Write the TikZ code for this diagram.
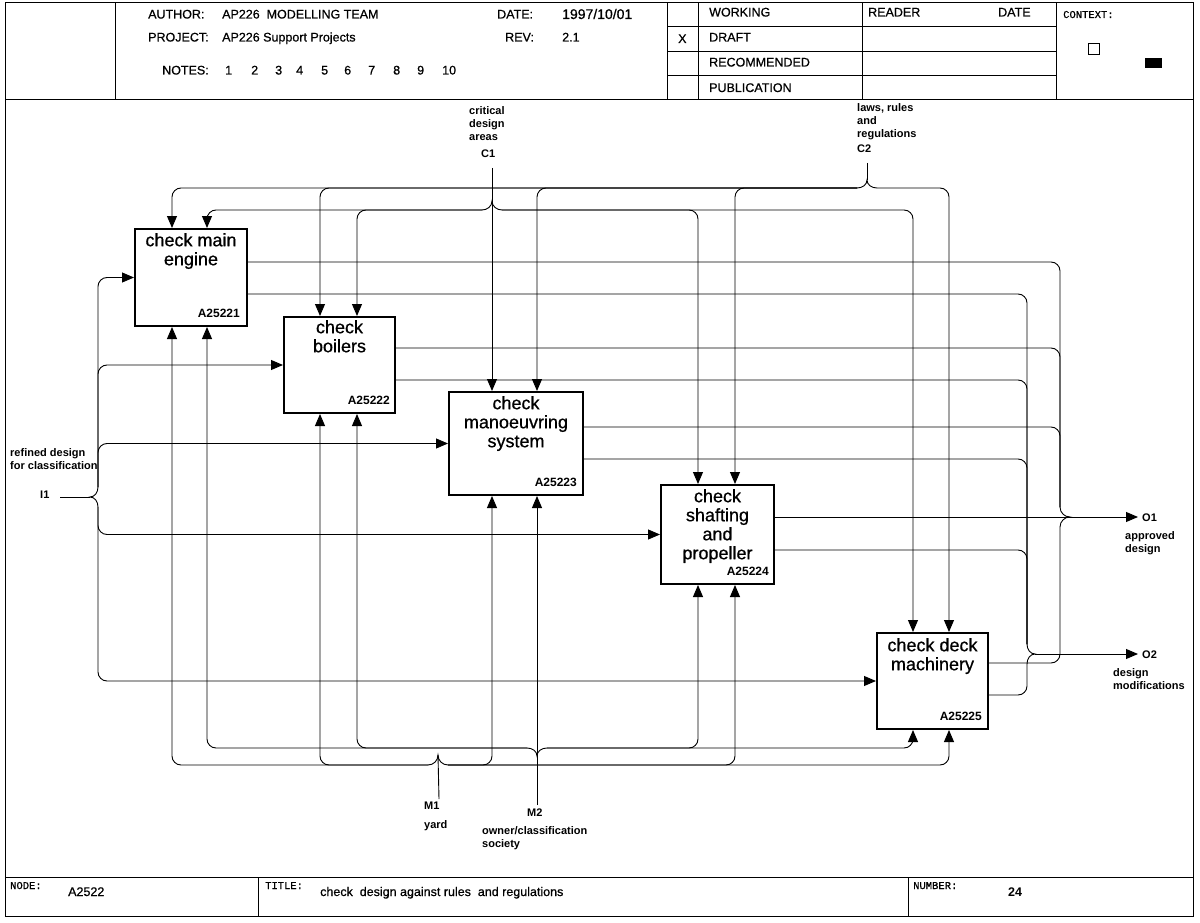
\documentclass[tikz,border=0pt]{standalone}
\usepackage{fontspec}
\setmainfont{Liberation Sans}
\setmonofont{Liberation Mono}
\newfontfamily\medsans{Liberation Sans}[FakeBold=0.7]
\newfontfamily\medmono{Liberation Mono}[FakeBold=0.7]
\usetikzlibrary{arrows.meta,calc}
\begin{document}
\begin{tikzpicture}[x=1pt,y=-1pt,
  ln/.style={line width=0.9pt, rounded corners=9pt},
  arr/.style={ln, -{Triangle[length=12pt,width=10pt]}},
  brc/.style={line width=0.9pt},
  fr/.style={line width=1pt},
  box/.style={draw, line width=2pt, anchor=north west, inner sep=0pt},
  ttl/.style={anchor=north, align=center, inner sep=0pt, font=\medsans\fontsize{18}{19}\selectfont},
  bid/.style={anchor=base east, inner sep=0pt, font=\bfseries\fontsize{12}{12}\selectfont},
  lbl/.style={anchor=north west, align=left, inner sep=0pt, font=\bfseries\fontsize{11}{13}\selectfont},
  lb1/.style={anchor=base west, inner sep=0pt, font=\bfseries\fontsize{11}{13}\selectfont},
  hd/.style={anchor=base west, inner sep=0pt, font=\medsans\fontsize{12.5}{13}\selectfont},
  mono/.style={anchor=base west, inner sep=0pt, font=\medmono\fontsize{10.5}{11}\selectfont},
]
\useasboundingbox (0,0) rectangle (1200,923);
\fill[white] (0,0) rectangle (1200,923);

% ---------- frame ----------
\draw[fr] (5,3) rectangle (1193,916);
\draw[fr] (5,100) -- (1193,100);
\draw[fr] (115,3) -- (115,100);
\draw[fr] (667,3) -- (667,100);
\draw[fr] (698,3) -- (698,100);
\draw[fr] (862,3) -- (862,100);
\draw[fr] (1056,3) -- (1056,100);
\draw[fr] (667,27) -- (1056,27);
\draw[fr] (667,52) -- (1056,52);
\draw[fr] (667,76) -- (1056,76);
\draw[fr] (5,877) -- (1193,877);
\draw[fr] (258,877) -- (258,916);
\draw[fr] (908,877) -- (908,916);

% ---------- header texts ----------
\node[hd] (hau) at (148,18.5) {AUTHOR:};
\node[hd] (hauv) at (222,18.5) {AP226\ \ MODELLING TEAM};
\node[hd] (hda) at (497,18.5) {DATE:};
\node[hd, font=\medsans\fontsize{14}{14}\selectfont] (hdav) at (562,19) {1997/10/01};
\node[hd] (hpr) at (148,41.5) {PROJECT:};
\node[hd] (hprv) at (222,41.5) {AP226 Support Projects};
\node[hd] (hre) at (505,41.5) {REV:};
\node[hd] (hrev) at (562,41.5) {2.1};
\node[hd] (hno) at (162,74.5) {NOTES:};
\node[hd] (n1) at (225,74.5) {1};
\node[hd] (n2) at (251,74.5) {2};
\node[hd] (n3) at (275,74.5) {3};
\node[hd] (n4) at (296,74.5) {4};
\node[hd] (n5) at (321,74.5) {5};
\node[hd] (n6) at (344,74.5) {6};
\node[hd] (n7) at (368,74.5) {7};
\node[hd] (n8) at (393,74.5) {8};
\node[hd] (n9) at (417,74.5) {9};
\node[hd] (n10) at (442,74.5) {10};
\node[hd] (hx) at (678,43) {X};
\node[hd] (hwo) at (709,16.5) {WORKING};
\node[hd] (hdr) at (709,41.5) {DRAFT};
\node[hd] (hrc) at (709,66.5) {RECOMMENDED};
\node[hd] (hpu) at (709,92) {PUBLICATION};
\node[hd] (hrd) at (868,16.5) {READER};
\node[hd] (hdt) at (998,16.5) {DATE};
\node[mono] (hctx) at (1063,18) {CONTEXT:};
\draw[line width=0.7pt] (1088,43) rectangle (1099,54);
\fill (1145,58) rectangle (1162,68);

% ---------- footer texts ----------
\node[mono] (fnd) at (10,889) {NODE:};
\node[hd] (fndv) at (68,896) {A2522};
\node[mono] (fti) at (265,889) {TITLE:};
\node[hd] (ftiv) at (320,896) {check\ \ design against rules\ \ and regulations};
\node[mono] (fnu) at (913,889) {NUMBER:};
\node[hd, font=\bfseries\fontsize{12.5}{13}\selectfont] (fnuv) at (1008,896) {24};

% ---------- boxes ----------
\node[box, minimum width=112pt, minimum height=97pt] (b1) at (134,228) {};
\node[box, minimum width=111pt, minimum height=96pt] (b2) at (283,316) {};
\node[box, minimum width=134pt, minimum height=103pt] (b3) at (448,391) {};
\node[box, minimum width=113pt, minimum height=99pt] (b4) at (660,484) {};
\node[box, minimum width=111pt, minimum height=96pt] (b5) at (876,632) {};

\node[ttl] (t1) at ($(b1.north)+(0,5)$) {check main\\engine};
\node[ttl] (t2) at ($(b2.north)+(0,4)$) {check\\boilers};
\node[ttl] (t3) at ($(b3.north)+(0,5)$) {check\\manoeuvring\\system};
\node[ttl] (t4) at ($(b4.north)+(0,5)$) {check\\shafting\\and\\propeller};
\node[ttl] (t5) at ($(b5.north)+(0,6)$) {check deck\\machinery};

\node[bid] (i1) at ($(b1.south east)+(-8,-10)$) {A25221};
\node[bid] (i2) at ($(b2.south east)+(-6,-10)$) {A25222};
\node[bid] (i3) at ($(b3.south east)+(-7,-10)$) {A25223};
\node[bid] (i4) at ($(b4.south east)+(-6,-10)$) {A25224};
\node[bid] (i5) at ($(b5.south east)+(-7,-10)$) {A25225};

% ---------- labels ----------
\node[lbl] (lc1) at (469,106) {critical\\design\\areas};
\node[lb1] (lc1n) at (481,158) {C1};
\node[lbl] (lc2) at (857,103) {laws, rules\\and\\regulations};
\node[lb1] (lc2n) at (857,153) {C2};
\node[lbl] (li1) at (10,448) {refined design\\for classification};
\node[lb1] (li1n) at (40,498) {I1};
\node[lb1] (lo1n) at (1142,521) {O1};
\node[lbl] (lo1) at (1125,531) {approved\\design};
\node[lb1] (lo2n) at (1142,658) {O2};
\node[lbl] (lo2) at (1113,668) {design\\modifications};
\node[lb1] (lm1n) at (424,809) {M1};
\node[lb1] (lm1) at (424,828) {yard};
\node[lb1] (lm2n) at (527,816) {M2};
\node[lbl] (lm2) at (482,826) {owner/classification\\society};

% ---------- coordinates ----------
\coordinate (C1) at (492,168);
\coordinate (C2) at (867,163);
\coordinate (I1) at (60,497);
\coordinate (M1) at (439,799);
\coordinate (M2) at (537,805);
\coordinate (O1) at (1138,517);
\coordinate (O2) at (1138,654);

% ---------- controls ----------
\draw[arr] (C1) -- (492,0 |- b3.north);
\draw[brc] (482,210) to[out=0,in=-90] (492,201) to[out=-90,in=180] (502,210);
\draw[arr] (482,210) -| (357,0 |- b2.north);
\draw[arr] (482,210) -| (207,0 |- b1.north);
\draw[arr] (502,210) -| (698,0 |- b4.north);
\draw[arr] (502,210) -| (913,0 |- b5.north);

\draw[ln] (C2) -- (867,180);
\draw[brc] (857,188) to[out=0,in=-90] (867,180) to[out=-90,in=180] (877,188);
\draw[arr] (857,188) -| (172,0 |- b1.north);
\draw[arr] (857,188) -| (320,0 |- b2.north);
\draw[arr] (857,188) -| (537,0 |- b3.north);
\draw[arr] (857,188) -| (735,0 |- b4.north);
\draw[arr] (877,188) -| (949,0 |- b5.north);

% ---------- mechanisms ----------
\draw[ln] (M1) -- (438,755);
\draw[brc] (428,765) to[out=0,in=-90] (438,755) to[out=-90,in=180] (448,765);
\draw[arr] (428,765) -| (172,0 |- b1.south);
\draw[arr] (428,765) -| (320,0 |- b2.south);
\draw[arr] (448,765) -| (492,0 |- b3.south);
\draw[arr] (448,765) -| (735,0 |- b4.south);
\draw[arr] (448,765) -| (949,0 |- b5.south);

\draw[arr] (M2) -- (537,0 |- b3.south);
\draw[brc] (527,748) to[out=0,in=90] (537,756) to[out=90,in=180] (547,748);
\draw[arr] (527,748) -| (207,0 |- b1.south);
\draw[arr] (527,748) -| (357,0 |- b2.south);
\draw[arr] (547,748) -| (698,0 |- b4.south);
\draw[arr] (547,748) -| (913,0 |- b5.south);

% ---------- inputs ----------
\draw[ln] (I1) -- (90,497);
\draw[brc] (98,487) to[out=-90,in=0] (90,497) to[out=0,in=90] (98,507);
\draw[arr] (98,487) |- (b1.west);
\draw[arr] (98,487) |- (b2.west);
\draw[arr] (98,487) |- (b3.west);
\draw[arr] (98,507) |- (b4.west);
\draw[arr] (98,507) |- (b5.west);

% ---------- outputs ----------
\draw[arr] (b4.east |- 0,517) -- (O1);
\draw[ln] (b1.east |- 0,262) -| (1060,507);
\draw[ln] (b2.east |- 0,348) -| (1060,507);
\draw[ln] (b3.east |- 0,427) -| (1060,507);
\draw[ln] (b5.east |- 0,663) -| (1060,527);
\draw[brc] (1060,507) to[out=-90,in=180] (1070,517) to[out=180,in=90] (1060,527);

\draw[arr] (1035,654) -- (O2);
\draw[ln] (b1.east |- 0,294) -| (1027,644);
\draw[ln] (b2.east |- 0,380) -| (1027,644);
\draw[ln] (b3.east |- 0,459) -| (1027,644);
\draw[ln] (b4.east |- 0,550) -| (1027,644);
\draw[ln] (b5.east |- 0,695) -| (1027,664);
\draw[brc] (1027,644) to[out=-90,in=180] (1035,654) to[out=180,in=90] (1027,664);

\end{tikzpicture}
\end{document}
